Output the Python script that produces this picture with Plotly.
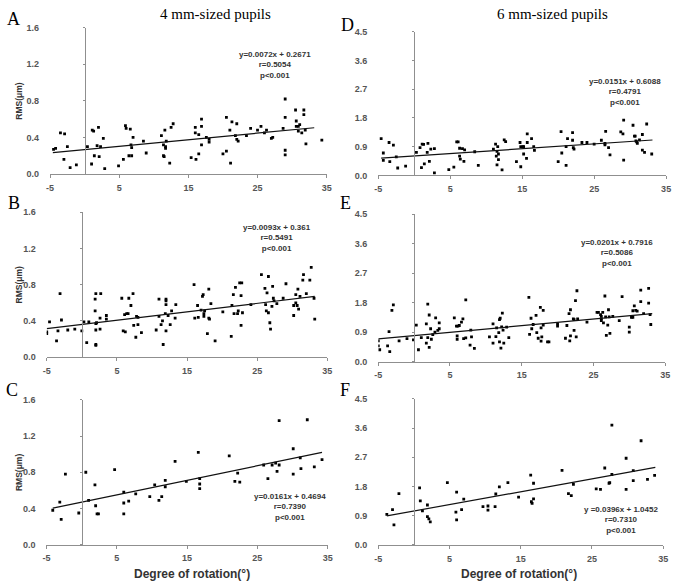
import plotly.graph_objects as go

# ---------------- data ----------------
a_x = [-4.5,-4.2,-3.5,-2.9,-3.0,-2.5,-2.1,-1.2,0.4,1.0,1.1,1.3,1.4,1.8,2.0,2.1,2.3,2.7,2.9,4.9,5.6,5.9,6.0,6.4,6.6,6.7,6.8,6.8,7.0,8.5,8.9,
       11.1,11.4,11.4,11.5,11.6,11.7,11.7,11.8,12.3,12.5,12.8,15.4,16.0,16.0,16.1,16.5,16.5,16.9,16.9,16.9,17.6,18.0,18.0,
       20.0,20.5,20.5,21.0,21.1,21.3,21.8,22.0,22.0,22.2,23.4,24.0,25.0,25.5,26.0,26.3,27.0,27.2,28.7,29.0,29.0,29.0,29.0,
       30.5,30.6,30.6,30.9,30.9,31.1,31.4,31.7,31.7,31.9,32.0,34.3]
a_y = [0.27,0.28,0.45,0.44,0.16,0.30,0.07,0.10,0.30,0.11,0.48,0.47,0.20,0.31,0.51,0.19,0.30,0.39,0.06,0.09,0.16,0.53,0.50,0.20,0.49,0.32,0.29,0.20,0.40,0.36,0.23,
       0.42,0.32,0.20,0.19,0.48,0.30,0.28,0.36,0.12,0.51,0.55,0.18,0.51,0.45,0.16,0.43,0.22,0.60,0.52,0.32,0.40,0.38,0.35,
       0.22,0.62,0.25,0.48,0.12,0.57,0.42,0.55,0.38,0.36,0.42,0.50,0.48,0.52,0.45,0.48,0.39,0.40,0.50,0.82,0.62,0.26,0.21,
       0.70,0.58,0.52,0.52,0.47,0.54,0.45,0.70,0.65,0.48,0.33,0.37]

d_x = [-4.6,-4.3,-4.3,-3.5,-3.4,-2.9,-2.5,-2.3,-1.2,0.3,0.8,1.1,1.3,1.0,1.4,1.8,2.1,1.9,2.3,2.8,2.8,4.8,5.5,5.9,6.1,6.3,6.3,6.4,6.7,6.9,7.0,8.4,8.9,
       11.0,11.3,11.4,11.5,11.5,11.6,11.7,11.7,12.2,12.5,12.7,14.2,14.7,14.8,15.1,14.8,15.2,15.2,15.6,15.7,15.7,16.3,16.6,16.7,
       20.0,20.4,20.5,21.1,21.1,21.3,22.0,22.0,22.1,22.2,23.3,24.0,25.0,26.0,26.5,26.5,26.6,27.0,27.2,
       28.7,29.0,29.1,29.1,30.4,30.6,30.7,30.8,30.9,31.0,31.3,31.7,31.7,32.0,32.3,33.0]
d_y = [1.15,0.70,0.47,1.03,0.43,0.95,0.58,0.23,0.29,0.72,0.87,0.98,0.97,0.24,0.36,0.72,0.44,1.00,0.82,0.84,0.08,0.18,0.26,1.05,1.05,0.85,0.60,0.51,0.84,0.44,0.80,0.74,0.31,
       0.82,0.98,0.60,0.33,0.75,0.90,0.49,0.67,0.17,1.11,1.06,0.43,1.03,0.90,0.90,0.27,0.90,0.67,0.53,1.03,1.30,1.15,0.90,0.78,
       0.43,1.37,0.70,0.31,0.90,1.15,1.34,1.10,0.87,0.82,1.03,1.03,0.98,1.10,1.00,0.96,1.38,0.87,0.64,
       1.36,1.30,1.73,0.48,1.57,1.23,1.23,1.08,1.05,1.00,1.11,1.28,0.79,0.72,1.61,0.67]

b_x = [-5.0,-5.0,-4.6,-3.6,-3.4,-3.1,-2.9,-2.0,-1.0,0.0,0.3,0.7,1.0,1.9,2.0,1.9,2.0,2.1,2.0,2.0,2.0,2.6,2.6,2.7,3.5,3.5,
       5.7,5.9,6.2,6.1,6.4,6.6,6.7,7.0,7.3,7.4,7.7,7.8,8.0,8.0,8.5,
       10.6,11.0,11.0,11.3,11.5,11.6,11.9,12.0,12.0,12.0,12.0,12.3,12.6,12.8,13.3,13.4,
       16.0,16.1,16.5,16.6,17.0,17.2,17.3,17.4,17.4,17.5,17.9,18.1,18.1,18.2,18.4,19.0,20.1,
       21.3,21.4,21.6,21.7,21.9,22.2,22.3,22.5,22.8,22.7,22.7,22.9,24.1,
       25.6,26.1,26.2,26.3,26.4,26.6,26.6,26.8,26.9,27.1,27.2,27.3,27.4,27.8,28.7,29.1,
       30.2,30.2,30.5,30.5,30.7,30.8,30.9,31.1,31.5,31.6,32.0,32.5,32.7,33.1,33.2]
b_y = [0.28,0.26,0.39,0.18,0.29,0.70,0.41,0.30,0.31,0.29,0.39,0.16,0.39,0.64,0.70,0.51,0.37,0.38,0.30,0.14,0.13,0.31,0.43,0.70,0.46,0.42,
       0.65,0.29,0.28,0.47,0.48,0.48,0.65,0.57,0.70,0.35,0.22,0.45,0.44,0.36,0.27,
       0.30,0.64,0.45,0.36,0.40,0.14,0.48,0.64,0.62,0.58,0.29,0.46,0.36,0.51,0.43,0.58,
       0.80,0.43,0.57,0.44,0.52,0.67,0.69,0.48,0.45,0.51,0.26,0.75,0.43,0.42,0.59,0.18,0.50,
       0.23,0.57,0.69,0.48,0.77,0.48,0.51,0.82,0.82,0.68,0.35,0.49,0.58,
       0.91,0.76,0.58,0.51,0.71,0.49,0.89,0.38,0.31,0.56,0.78,0.65,0.62,0.59,0.65,0.81,
       0.46,0.57,0.69,0.60,0.57,0.75,0.53,0.67,0.85,0.91,0.70,0.85,0.99,0.65,0.42]

e_x = [-5.0,-5.0,-4.8,-3.7,-3.5,-3.4,-3.1,-2.9,-2.1,-1.0,-0.1,0.3,0.6,1.0,1.7,1.7,1.9,1.9,2.1,2.1,2.3,2.4,2.6,2.9,3.0,3.3,3.5,3.5,
       5.6,5.9,6.1,6.3,6.0,6.0,6.6,6.8,6.9,7.2,7.2,7.8,7.9,8.0,8.4,
       10.5,11.0,11.0,11.4,11.5,11.8,11.9,11.9,12.0,12.1,12.2,12.3,12.4,12.5,12.9,13.2,
       16.0,16.1,16.3,16.4,16.6,17.0,17.1,17.3,17.6,17.7,17.7,17.8,18.0,18.0,18.6,18.8,
       20.0,20.0,21.1,21.3,21.6,21.7,21.8,21.8,22.2,22.3,22.3,22.5,22.6,22.7,22.8,24.1,
       25.5,25.7,26.0,26.1,26.1,26.1,26.3,26.4,26.6,26.7,26.8,27.0,27.1,27.2,27.3,27.7,28.6,29.0,
       30.0,30.0,30.3,30.5,30.5,30.7,30.9,31.1,31.6,31.6,32.0,32.7,32.7,32.9,33.0]
e_y = [0.63,0.48,0.36,0.48,0.91,0.30,1.56,1.73,0.63,0.70,0.66,1.11,0.36,0.73,1.15,0.56,1.75,0.73,1.42,0.43,1.00,0.68,0.82,0.90,1.33,0.95,1.18,1.00,
       1.33,1.08,1.08,1.10,0.78,0.68,1.20,1.30,0.70,0.72,1.88,0.50,0.96,0.75,0.40,
       0.75,1.15,0.56,0.76,1.03,0.88,0.60,1.28,1.32,0.41,1.06,1.48,0.96,0.56,1.05,0.73,
       1.96,0.83,1.32,1.00,1.13,1.41,0.88,0.71,1.65,1.03,0.62,0.75,1.56,1.11,0.60,0.60,
       1.15,1.08,0.71,1.10,1.46,0.63,1.58,0.78,1.30,0.95,1.28,1.86,0.75,2.16,1.30,1.20,
       1.50,1.50,1.43,1.38,1.30,1.25,1.50,1.18,2.00,1.36,0.80,1.11,1.58,1.36,0.86,1.38,1.25,1.98,
       1.05,0.90,1.35,1.35,1.55,1.70,1.56,1.54,1.83,2.18,1.46,1.78,2.23,1.43,1.13]

c_x = [-4.1,-3.1,-2.9,-2.3,-0.4,0.6,1.0,1.9,2.0,2.2,2.4,4.7,6.0,6.0,6.0,6.7,7.7,9.7,10.4,11.0,11.4,11.9,11.9,13.3,14.9,
       16.6,16.8,16.8,16.8,21.0,21.8,22.2,22.5,25.9,26.5,27.1,27.6,27.8,28.1,28.1,30.1,30.1,31.1,31.2,32.1,33.1,34.2]
c_y = [0.38,0.47,0.28,0.78,0.35,0.80,0.49,0.66,0.43,0.34,0.34,0.83,0.58,0.46,0.34,0.48,0.56,0.53,0.66,0.49,0.53,0.71,0.64,0.92,0.70,
       1.02,0.73,0.67,0.62,0.98,0.70,0.79,0.69,0.88,0.73,0.88,0.90,0.81,1.37,0.88,1.06,0.78,0.96,0.84,1.38,0.86,0.94]

f_x = [-3.8,-3.0,-2.8,-2.1,0.8,0.9,1.2,1.9,1.9,2.1,2.3,4.7,5.9,6.0,6.0,6.7,7.0,9.7,10.4,10.4,11.4,11.5,12.0,13.2,14.7,
       16.4,16.5,16.6,16.8,16.8,20.8,21.7,22.1,22.4,25.6,26.2,26.8,27.4,27.5,27.8,27.8,29.8,29.8,30.8,30.8,31.9,32.8,33.8]
f_y = [0.94,1.09,0.62,1.58,1.76,1.36,1.05,1.23,0.87,0.80,0.71,1.92,1.01,1.63,0.77,1.09,1.41,1.18,1.20,1.07,1.18,1.57,1.79,1.92,1.47,
       2.15,1.33,1.28,1.90,1.42,2.30,1.58,1.52,1.87,1.73,1.71,2.37,1.90,1.92,3.69,2.17,2.67,1.71,2.29,1.98,3.21,2.02,2.14]

slopes = {"A": 0.0072, "B": 0.0093, "C": 0.0161, "D": 0.0151, "E": 0.0201, "F": 0.0396}
intercepts = {"A": 0.2671, "B": 0.361, "C": 0.4694, "D": 0.6088, "E": 0.7916, "F": 1.0452}
line_ends = {"A": [-4.6, 33.2], "B": [-5.0, 33.2], "C": [-4.1, 34.2],
             "D": [-4.6, 33.1], "E": [-5.0, 33.2], "F": [-3.8, 33.9]}
stats_text = {
    "A": ["y=0.0072x + 0.2671", "r=0.5054", "p<0.001"],
    "B": ["y=0.0093x + 0.361", "r=0.5491", "p<0.001"],
    "C": ["y=0.0161x + 0.4694", "r=0.7390", "p<0.001"],
    "D": ["y=0.0151x + 0.6088", "r=0.4791", "p<0.001"],
    "E": ["y=0.0201x + 0.7916", "r=0.5086", "p<0.001"],
    "F": ["y =0.0396x + 1.0452", "r=0.7310", "p<0.001"],
}
x_ticks = [-5, 5, 15, 25, 35]
y_ticks_4mm = [0.0, 0.4, 0.8, 1.2, 1.6]
y_ticks_6mm = [0.0, 0.9, 1.8, 2.7, 3.6, 4.5]
column_titles = ["4 mm-sized pupils", "6 mm-sized pupils"]
x_title = "Degree of rotation(°)"
y_title = "RMS(μm)"

# ---------------- layout helpers ----------------
W, H = 680, 587
def fx(p): return p / W
def fy(p): return 1 - p / H

data = {"A": (a_x, a_y), "B": (b_x, b_y), "C": (c_x, c_y),
        "D": (d_x, d_y), "E": (e_x, e_y), "F": (f_x, f_y)}
# pixel boxes: left, right, top, bottom
boxes = {"A": (46.7, 327, 23, 172), "D": (379.3, 671, 27.3, 173.3),
         "B": (43.3, 327.7, 210.7, 358.3), "E": (379.3, 670, 212.7, 362.7),
         "C": (43, 328, 401.7, 549), "F": (379.3, 668, 400.7, 549.3)}
stat_pos = {"A": (275, 61), "B": (277, 237), "C": (290, 511),
            "D": (629, 89), "E": (621, 252), "F": (625, 524)}
letter_pos = {"A": (10, 14), "B": (10, 201), "C": (8, 392),
              "D": (348, 20), "E": (346, 201), "F": (346, 392)}
order = ["A", "D", "B", "E", "C", "F"]

AX_COLOR = "#8f8f8f"
TICK_FONT = dict(family="Liberation Sans", size=9, color="#555555", weight="bold")
XRANGE = [-5, 35]

fig = go.Figure()
layout = {}
annotations = []

for i, key in enumerate(order, start=1):
    xs, ys = data[key]
    left, right, top, bottom = boxes[key]
    xa = "x" if i == 1 else f"x{i}"
    ya = "y" if i == 1 else f"y{i}"
    ya_ov = f"y{i + 6}"
    is4 = key in "ABC"
    yticks = y_ticks_4mm if is4 else y_ticks_6mm
    yrange = [yticks[0], yticks[-1]]

    fig.add_trace(go.Scatter(x=xs, y=ys, mode="markers", xaxis=xa, yaxis=ya,
                             marker=dict(symbol="square", size=2.8, color="black"),
                             showlegend=False, hoverinfo="skip"))
    lx = line_ends[key]
    ly = [slopes[key] * v + intercepts[key] for v in lx]
    fig.add_trace(go.Scatter(x=lx, y=ly, mode="lines", xaxis=xa, yaxis=ya,
                             line=dict(color="#111111", width=1.2),
                             showlegend=False, hoverinfo="skip"))
    # empty trace to force the overlay y-axis (the line at x=0) to render
    fig.add_trace(go.Scatter(x=[None], y=[None], mode="markers", xaxis=xa, yaxis=ya_ov,
                             showlegend=False, hoverinfo="skip"))

    xdom = [fx(left), fx(right)]
    ydom = [fy(bottom), fy(top)]
    xname = "xaxis" if i == 1 else f"xaxis{i}"
    yname = "yaxis" if i == 1 else f"yaxis{i}"
    layout[xname] = dict(domain=xdom, range=XRANGE, anchor=ya, showgrid=False, zeroline=False,
                         showline=True, linecolor=AX_COLOR, linewidth=1,
                         ticks="outside", ticklen=3, tickcolor=AX_COLOR,
                         tickvals=x_ticks, ticktext=[str(t) for t in x_ticks],
                         tickfont=TICK_FONT, ticklabelstandoff=2)
    layout[yname] = dict(domain=ydom, range=yrange, anchor=xa, showgrid=False, zeroline=False,
                         showline=False, ticks="", tickvals=yticks,
                         ticktext=[f"{t:.1f}" for t in yticks],
                         tickfont=TICK_FONT, ticklabelstandoff=10)
    zero_pos = xdom[0] + (0 - XRANGE[0]) / (XRANGE[1] - XRANGE[0]) * (xdom[1] - xdom[0])
    layout[f"yaxis{i + 6}"] = dict(overlaying=ya, anchor="free", position=zero_pos, side="left",
                                  range=yrange, showgrid=False, zeroline=False,
                                  showline=True, linecolor=AX_COLOR, linewidth=1,
                                  ticks="outside", ticklen=2, tickcolor=AX_COLOR,
                                  tickvals=yticks, showticklabels=False)

    # stats annotation
    sx, sy = stat_pos[key]
    annotations.append(dict(x=fx(sx), y=fy(sy), xref="paper", yref="paper",
                            text="<br>".join(stats_text[key]), showarrow=False,
                            xanchor="center", yanchor="middle", align="center",
                            font=dict(family="Liberation Sans", size=8, color="#333333", weight="bold")))
    # panel letter
    lxp, lyp = letter_pos[key]
    annotations.append(dict(x=fx(lxp), y=fy(lyp), xref="paper", yref="paper", text=key,
                            showarrow=False, xanchor="center", yanchor="middle",
                            font=dict(family="Liberation Serif", size=18, color="black")))
    if is4:
        annotations.append(dict(x=fx(15), y=fy((top + bottom) / 2), xref="paper", yref="paper",
                                text=y_title, textangle=-90, showarrow=False,
                                xanchor="center", yanchor="middle",
                                font=dict(family="Liberation Sans", size=8.5, color="#333333", weight="bold")))

# column titles
annotations.append(dict(x=fx(214), y=fy(9), xref="paper", yref="paper", text=column_titles[0],
                        showarrow=False, xanchor="center", yanchor="middle",
                        font=dict(family="Liberation Serif", size=15, color="black")))
annotations.append(dict(x=fx(556), y=fy(9), xref="paper", yref="paper", text=column_titles[1],
                        showarrow=False, xanchor="center", yanchor="middle",
                        font=dict(family="Liberation Serif", size=15, color="black")))
# x titles
for cx in (191, 522):
    annotations.append(dict(x=fx(cx), y=fy(579), xref="paper", yref="paper", text=x_title,
                            showarrow=False, xanchor="center", yanchor="middle",
                            font=dict(family="Liberation Sans", size=12, color="#333333", weight="bold")))

fig.update_layout(width=W, height=H, margin=dict(l=0, r=0, t=0, b=0),
                  paper_bgcolor="white", plot_bgcolor="white",
                  annotations=annotations, **layout)

fig.write_html("out.html")
